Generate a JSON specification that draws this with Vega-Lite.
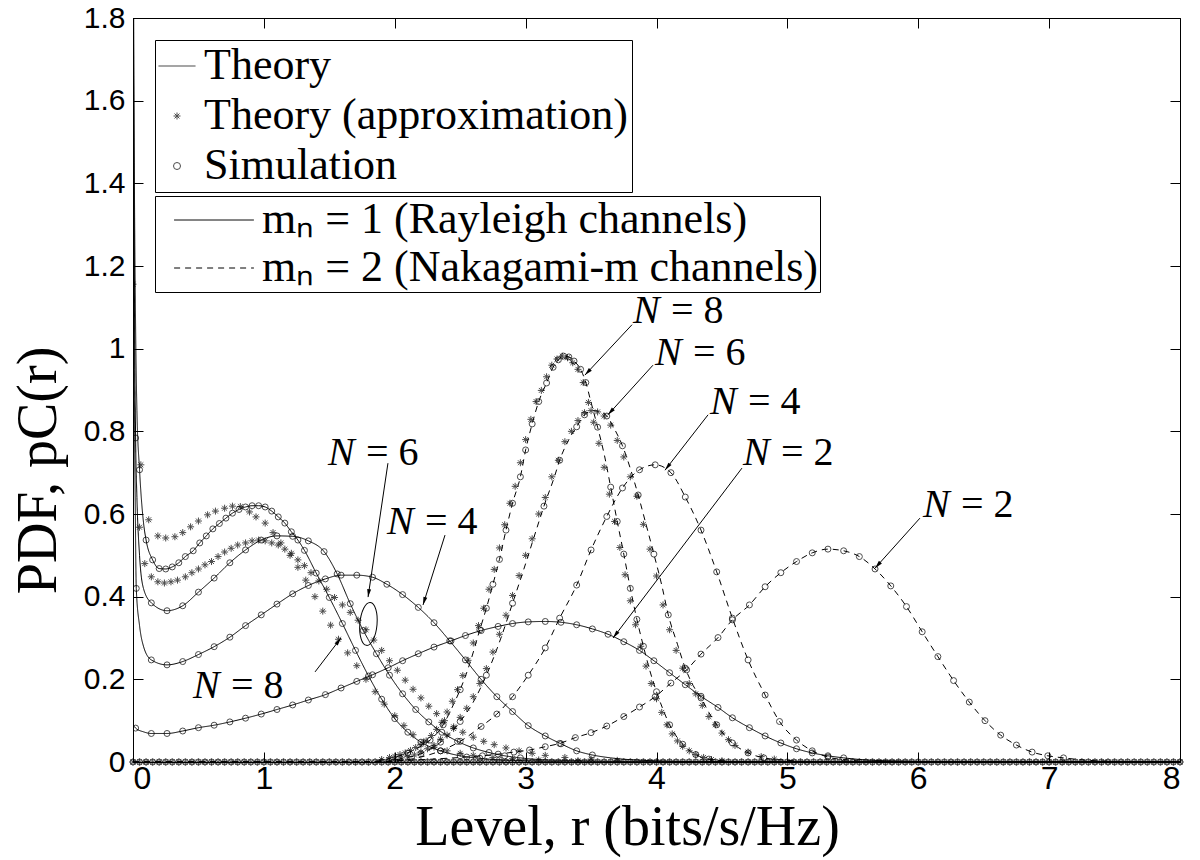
{
"$schema": "https://vega.github.io/schema/vega-lite/v6.json",
"width": 1047, "height": 744,
"autosize": {"type": "none"},
"padding": {"left": 133, "top": 18, "right": 20, "bottom": 98},
"background": "white",
"config": {
  "view": {"stroke": "black", "strokeWidth": 1},
  "axis": {"grid": false, "domain": false, "tickColor": "black", "tickSize": -10, "tickWidth": 1, "labelFont": "Liberation Sans", "labelFontSize": 30, "labelColor": "black", "titleFont": "Liberation Serif", "titleFontSize": 56, "titleFontWeight": "normal", "titleColor": "black"},
  "legend": {"labelFont": "Liberation Serif", "labelFontSize": 44, "labelColor": "black", "labelLimit": 2000, "strokeColor": "black", "fillColor": "white", "symbolStrokeWidth": 1, "symbolStrokeColor": "black"}
},
"datasets": {
"th": [
{"c":"R2","m":1,"x":0,"y":0.09,"s":0},{"c":"R2","m":1,"x":0.02,"y":0.082,"s":1},{"c":"R2","m":1,"x":0.08,"y":0.073,"s":0},{"c":"R2","m":1,"x":0.14,"y":0.069,"s":1},{"c":"R2","m":1,"x":0.26,"y":0.069,"s":1},{"c":"R2","m":1,"x":0.38,"y":0.075,"s":1},{"c":"R2","m":1,"x":0.5,"y":0.083,"s":1},{"c":"R2","m":1,"x":0.62,"y":0.089,"s":1},{"c":"R2","m":1,"x":0.74,"y":0.097,"s":1},{"c":"R2","m":1,"x":0.86,"y":0.106,"s":1},{"c":"R2","m":1,"x":0.98,"y":0.116,"s":1},{"c":"R2","m":1,"x":1.1,"y":0.127,"s":1},{"c":"R2","m":1,"x":1.22,"y":0.138,"s":1},{"c":"R2","m":1,"x":1.34,"y":0.15,"s":1},{"c":"R2","m":1,"x":1.47,"y":0.163,"s":1},{"c":"R2","m":1,"x":1.59,"y":0.179,"s":1},{"c":"R2","m":1,"x":1.71,"y":0.195,"s":1},{"c":"R2","m":1,"x":1.83,"y":0.211,"s":1},{"c":"R2","m":1,"x":1.95,"y":0.228,"s":1},{"c":"R2","m":1,"x":2.06,"y":0.245,"s":1},{"c":"R2","m":1,"x":2.18,"y":0.262,"s":1},{"c":"R2","m":1,"x":2.3,"y":0.278,"s":1},{"c":"R2","m":1,"x":2.43,"y":0.293,"s":1},{"c":"R2","m":1,"x":2.54,"y":0.306,"s":1},{"c":"R2","m":1,"x":2.66,"y":0.318,"s":1},{"c":"R2","m":1,"x":2.79,"y":0.328,"s":1},{"c":"R2","m":1,"x":2.9,"y":0.335,"s":1},{"c":"R2","m":1,"x":3.02,"y":0.339,"s":1},{"c":"R2","m":1,"x":3.15,"y":0.34,"s":1},{"c":"R2","m":1,"x":3.27,"y":0.338,"s":1},{"c":"R2","m":1,"x":3.39,"y":0.332,"s":1},{"c":"R2","m":1,"x":3.51,"y":0.322,"s":1},{"c":"R2","m":1,"x":3.63,"y":0.309,"s":1},{"c":"R2","m":1,"x":3.75,"y":0.291,"s":1},{"c":"R2","m":1,"x":3.87,"y":0.27,"s":1},{"c":"R2","m":1,"x":3.98,"y":0.245,"s":1},{"c":"R2","m":1,"x":4.1,"y":0.216,"s":1},{"c":"R2","m":1,"x":4.22,"y":0.187,"s":1},{"c":"R2","m":1,"x":4.34,"y":0.159,"s":1},{"c":"R2","m":1,"x":4.47,"y":0.132,"s":1},{"c":"R2","m":1,"x":4.58,"y":0.107,"s":1},{"c":"R2","m":1,"x":4.71,"y":0.083,"s":1},{"c":"R2","m":1,"x":4.83,"y":0.063,"s":1},{"c":"R2","m":1,"x":4.95,"y":0.046,"s":1},{"c":"R2","m":1,"x":5.07,"y":0.032,"s":1},{"c":"R2","m":1,"x":5.19,"y":0.022,"s":1},{"c":"R2","m":1,"x":5.31,"y":0.015,"s":1},{"c":"R2","m":1,"x":5.43,"y":0.01,"s":1},{"c":"R2","m":1,"x":5.6,"y":0.005,"s":0},{"c":"R2","m":1,"x":5.9,"y":0.002,"s":0},{"c":"R2","m":1,"x":6.3,"y":0,"s":0},{"c":"R2","m":1,"x":8,"y":0,"s":0},
{"c":"R4","m":1,"x":0.002,"y":1.9,"s":0},{"c":"R4","m":1,"x":0.01,"y":0.95,"s":0},{"c":"R4","m":1,"x":0.018,"y":0.6,"s":0},{"c":"R4","m":1,"x":0.025,"y":0.42,"s":1},{"c":"R4","m":1,"x":0.05,"y":0.33,"s":0},{"c":"R4","m":1,"x":0.08,"y":0.28,"s":0},{"c":"R4","m":1,"x":0.14,"y":0.247,"s":1},{"c":"R4","m":1,"x":0.26,"y":0.235,"s":1},{"c":"R4","m":1,"x":0.38,"y":0.243,"s":1},{"c":"R4","m":1,"x":0.5,"y":0.26,"s":1},{"c":"R4","m":1,"x":0.62,"y":0.279,"s":1},{"c":"R4","m":1,"x":0.74,"y":0.302,"s":1},{"c":"R4","m":1,"x":0.86,"y":0.33,"s":1},{"c":"R4","m":1,"x":0.98,"y":0.356,"s":1},{"c":"R4","m":1,"x":1.1,"y":0.382,"s":1},{"c":"R4","m":1,"x":1.22,"y":0.407,"s":1},{"c":"R4","m":1,"x":1.34,"y":0.427,"s":1},{"c":"R4","m":1,"x":1.47,"y":0.443,"s":1},{"c":"R4","m":1,"x":1.59,"y":0.452,"s":1},{"c":"R4","m":1,"x":1.71,"y":0.452,"s":1},{"c":"R4","m":1,"x":1.83,"y":0.447,"s":1},{"c":"R4","m":1,"x":1.94,"y":0.43,"s":1},{"c":"R4","m":1,"x":2.06,"y":0.405,"s":1},{"c":"R4","m":1,"x":2.18,"y":0.374,"s":1},{"c":"R4","m":1,"x":2.3,"y":0.337,"s":1},{"c":"R4","m":1,"x":2.42,"y":0.293,"s":1},{"c":"R4","m":1,"x":2.54,"y":0.247,"s":1},{"c":"R4","m":1,"x":2.66,"y":0.2,"s":1},{"c":"R4","m":1,"x":2.78,"y":0.158,"s":1},{"c":"R4","m":1,"x":2.9,"y":0.122,"s":1},{"c":"R4","m":1,"x":3.02,"y":0.088,"s":1},{"c":"R4","m":1,"x":3.15,"y":0.063,"s":1},{"c":"R4","m":1,"x":3.27,"y":0.044,"s":1},{"c":"R4","m":1,"x":3.39,"y":0.027,"s":1},{"c":"R4","m":1,"x":3.51,"y":0.017,"s":1},{"c":"R4","m":1,"x":3.65,"y":0.01,"s":0},{"c":"R4","m":1,"x":3.9,"y":0.004,"s":0},{"c":"R4","m":1,"x":4.3,"y":0.001,"s":0},{"c":"R4","m":1,"x":8,"y":0,"s":0},
{"c":"R6","m":1,"x":0.002,"y":1.95,"s":0},{"c":"R6","m":1,"x":0.01,"y":1.2,"s":0},{"c":"R6","m":1,"x":0.02,"y":0.784,"s":1},{"c":"R6","m":1,"x":0.03,"y":0.64,"s":0},{"c":"R6","m":1,"x":0.05,"y":0.5,"s":0},{"c":"R6","m":1,"x":0.08,"y":0.42,"s":0},{"c":"R6","m":1,"x":0.14,"y":0.385,"s":1},{"c":"R6","m":1,"x":0.26,"y":0.366,"s":1},{"c":"R6","m":1,"x":0.38,"y":0.378,"s":1},{"c":"R6","m":1,"x":0.5,"y":0.411,"s":1},{"c":"R6","m":1,"x":0.62,"y":0.445,"s":1},{"c":"R6","m":1,"x":0.74,"y":0.482,"s":1},{"c":"R6","m":1,"x":0.86,"y":0.513,"s":1},{"c":"R6","m":1,"x":0.98,"y":0.537,"s":1},{"c":"R6","m":1,"x":1.1,"y":0.547,"s":1},{"c":"R6","m":1,"x":1.22,"y":0.546,"s":1},{"c":"R6","m":1,"x":1.34,"y":0.535,"s":1},{"c":"R6","m":1,"x":1.46,"y":0.509,"s":1},{"c":"R6","m":1,"x":1.56,"y":0.455,"s":1},{"c":"R6","m":1,"x":1.66,"y":0.383,"s":1},{"c":"R6","m":1,"x":1.76,"y":0.318,"s":1},{"c":"R6","m":1,"x":1.86,"y":0.262,"s":1},{"c":"R6","m":1,"x":1.96,"y":0.21,"s":1},{"c":"R6","m":1,"x":2.06,"y":0.165,"s":1},{"c":"R6","m":1,"x":2.16,"y":0.127,"s":1},{"c":"R6","m":1,"x":2.26,"y":0.097,"s":1},{"c":"R6","m":1,"x":2.36,"y":0.072,"s":1},{"c":"R6","m":1,"x":2.48,"y":0.05,"s":1},{"c":"R6","m":1,"x":2.6,"y":0.034,"s":1},{"c":"R6","m":1,"x":2.72,"y":0.023,"s":1},{"c":"R6","m":1,"x":2.84,"y":0.015,"s":1},{"c":"R6","m":1,"x":2.96,"y":0.01,"s":1},{"c":"R6","m":1,"x":3.1,"y":0.006,"s":0},{"c":"R6","m":1,"x":3.4,"y":0.003,"s":0},{"c":"R6","m":1,"x":3.8,"y":0.001,"s":0},{"c":"R6","m":1,"x":8,"y":0,"s":0},
{"c":"R8","m":1,"x":0.003,"y":2.0,"s":0},{"c":"R8","m":1,"x":0.01,"y":1.45,"s":0},{"c":"R8","m":1,"x":0.02,"y":1.05,"s":0},{"c":"R8","m":1,"x":0.03,"y":0.85,"s":0},{"c":"R8","m":1,"x":0.05,"y":0.707,"s":1},{"c":"R8","m":1,"x":0.08,"y":0.58,"s":0},{"c":"R8","m":1,"x":0.1,"y":0.537,"s":1},{"c":"R8","m":1,"x":0.15,"y":0.489,"s":1},{"c":"R8","m":1,"x":0.2,"y":0.468,"s":1},{"c":"R8","m":1,"x":0.25,"y":0.467,"s":1},{"c":"R8","m":1,"x":0.3,"y":0.472,"s":1},{"c":"R8","m":1,"x":0.35,"y":0.482,"s":1},{"c":"R8","m":1,"x":0.4,"y":0.497,"s":1},{"c":"R8","m":1,"x":0.46,"y":0.511,"s":1},{"c":"R8","m":1,"x":0.51,"y":0.53,"s":1},{"c":"R8","m":1,"x":0.56,"y":0.547,"s":1},{"c":"R8","m":1,"x":0.61,"y":0.564,"s":1},{"c":"R8","m":1,"x":0.66,"y":0.577,"s":1},{"c":"R8","m":1,"x":0.71,"y":0.59,"s":1},{"c":"R8","m":1,"x":0.76,"y":0.602,"s":1},{"c":"R8","m":1,"x":0.81,"y":0.611,"s":1},{"c":"R8","m":1,"x":0.86,"y":0.617,"s":1},{"c":"R8","m":1,"x":0.91,"y":0.62,"s":1},{"c":"R8","m":1,"x":0.96,"y":0.62,"s":1},{"c":"R8","m":1,"x":1.01,"y":0.617,"s":1},{"c":"R8","m":1,"x":1.06,"y":0.607,"s":1},{"c":"R8","m":1,"x":1.11,"y":0.593,"s":1},{"c":"R8","m":1,"x":1.16,"y":0.578,"s":1},{"c":"R8","m":1,"x":1.21,"y":0.557,"s":1},{"c":"R8","m":1,"x":1.26,"y":0.537,"s":1},{"c":"R8","m":1,"x":1.31,"y":0.512,"s":1},{"c":"R8","m":1,"x":1.4,"y":0.457,"s":1},{"c":"R8","m":1,"x":1.5,"y":0.398,"s":1},{"c":"R8","m":1,"x":1.6,"y":0.335,"s":1},{"c":"R8","m":1,"x":1.7,"y":0.27,"s":1},{"c":"R8","m":1,"x":1.8,"y":0.208,"s":1},{"c":"R8","m":1,"x":1.9,"y":0.152,"s":1},{"c":"R8","m":1,"x":2.0,"y":0.105,"s":1},{"c":"R8","m":1,"x":2.1,"y":0.072,"s":1},{"c":"R8","m":1,"x":2.2,"y":0.048,"s":1},{"c":"R8","m":1,"x":2.35,"y":0.027,"s":1},{"c":"R8","m":1,"x":2.5,"y":0.015,"s":1},{"c":"R8","m":1,"x":2.65,"y":0.009,"s":1},{"c":"R8","m":1,"x":2.8,"y":0.005,"s":1},{"c":"R8","m":1,"x":3.0,"y":0.003,"s":0},{"c":"R8","m":1,"x":3.5,"y":0,"s":0},{"c":"R8","m":1,"x":8,"y":0,"s":0},
{"c":"K2","m":2,"x":0,"y":0,"s":0},{"c":"K2","m":2,"x":1.5,"y":0,"s":0},{"c":"K2","m":2,"x":1.8,"y":0.001,"s":0},{"c":"K2","m":2,"x":2.1,"y":0.004,"s":0},{"c":"K2","m":2,"x":2.4,"y":0.009,"s":0},{"c":"K2","m":2,"x":2.55,"y":0.012,"s":1},{"c":"K2","m":2,"x":2.67,"y":0.015,"s":1},{"c":"K2","m":2,"x":2.79,"y":0.019,"s":1},{"c":"K2","m":2,"x":2.91,"y":0.024,"s":1},{"c":"K2","m":2,"x":3.03,"y":0.029,"s":1},{"c":"K2","m":2,"x":3.15,"y":0.037,"s":1},{"c":"K2","m":2,"x":3.26,"y":0.045,"s":1},{"c":"K2","m":2,"x":3.38,"y":0.059,"s":1},{"c":"K2","m":2,"x":3.5,"y":0.071,"s":1},{"c":"K2","m":2,"x":3.62,"y":0.087,"s":1},{"c":"K2","m":2,"x":3.75,"y":0.11,"s":1},{"c":"K2","m":2,"x":3.87,"y":0.133,"s":1},{"c":"K2","m":2,"x":3.99,"y":0.158,"s":1},{"c":"K2","m":2,"x":4.11,"y":0.191,"s":1},{"c":"K2","m":2,"x":4.23,"y":0.223,"s":1},{"c":"K2","m":2,"x":4.34,"y":0.261,"s":1},{"c":"K2","m":2,"x":4.47,"y":0.301,"s":1},{"c":"K2","m":2,"x":4.58,"y":0.344,"s":1},{"c":"K2","m":2,"x":4.71,"y":0.38,"s":1},{"c":"K2","m":2,"x":4.83,"y":0.424,"s":1},{"c":"K2","m":2,"x":4.95,"y":0.458,"s":1},{"c":"K2","m":2,"x":5.07,"y":0.485,"s":1},{"c":"K2","m":2,"x":5.19,"y":0.506,"s":1},{"c":"K2","m":2,"x":5.31,"y":0.515,"s":1},{"c":"K2","m":2,"x":5.43,"y":0.511,"s":1},{"c":"K2","m":2,"x":5.55,"y":0.497,"s":1},{"c":"K2","m":2,"x":5.67,"y":0.467,"s":1},{"c":"K2","m":2,"x":5.79,"y":0.426,"s":1},{"c":"K2","m":2,"x":5.91,"y":0.376,"s":1},{"c":"K2","m":2,"x":6.03,"y":0.315,"s":1},{"c":"K2","m":2,"x":6.15,"y":0.255,"s":1},{"c":"K2","m":2,"x":6.27,"y":0.197,"s":1},{"c":"K2","m":2,"x":6.39,"y":0.145,"s":1},{"c":"K2","m":2,"x":6.51,"y":0.1,"s":1},{"c":"K2","m":2,"x":6.63,"y":0.065,"s":1},{"c":"K2","m":2,"x":6.75,"y":0.041,"s":1},{"c":"K2","m":2,"x":6.87,"y":0.024,"s":1},{"c":"K2","m":2,"x":6.99,"y":0.015,"s":1},{"c":"K2","m":2,"x":7.11,"y":0.01,"s":1},{"c":"K2","m":2,"x":7.3,"y":0.004,"s":0},{"c":"K2","m":2,"x":7.6,"y":0.001,"s":0},{"c":"K2","m":2,"x":8,"y":0,"s":0},
{"c":"K4","m":2,"x":0,"y":0,"s":0},{"c":"K4","m":2,"x":1.8,"y":0,"s":0},{"c":"K4","m":2,"x":2.0,"y":0.002,"s":0},{"c":"K4","m":2,"x":2.2,"y":0.012,"s":0},{"c":"K4","m":2,"x":2.35,"y":0.027,"s":1},{"c":"K4","m":2,"x":2.5,"y":0.05,"s":1},{"c":"K4","m":2,"x":2.66,"y":0.086,"s":1},{"c":"K4","m":2,"x":2.78,"y":0.116,"s":1},{"c":"K4","m":2,"x":2.9,"y":0.158,"s":1},{"c":"K4","m":2,"x":3.02,"y":0.21,"s":1},{"c":"K4","m":2,"x":3.15,"y":0.276,"s":1},{"c":"K4","m":2,"x":3.26,"y":0.348,"s":1},{"c":"K4","m":2,"x":3.39,"y":0.428,"s":1},{"c":"K4","m":2,"x":3.5,"y":0.513,"s":1},{"c":"K4","m":2,"x":3.62,"y":0.594,"s":1},{"c":"K4","m":2,"x":3.74,"y":0.663,"s":1},{"c":"K4","m":2,"x":3.87,"y":0.707,"s":1},{"c":"K4","m":2,"x":3.99,"y":0.719,"s":1},{"c":"K4","m":2,"x":4.11,"y":0.7,"s":1},{"c":"K4","m":2,"x":4.22,"y":0.641,"s":1},{"c":"K4","m":2,"x":4.34,"y":0.561,"s":1},{"c":"K4","m":2,"x":4.46,"y":0.46,"s":1},{"c":"K4","m":2,"x":4.58,"y":0.348,"s":1},{"c":"K4","m":2,"x":4.7,"y":0.247,"s":1},{"c":"K4","m":2,"x":4.83,"y":0.162,"s":1},{"c":"K4","m":2,"x":4.94,"y":0.098,"s":1},{"c":"K4","m":2,"x":5.07,"y":0.053,"s":1},{"c":"K4","m":2,"x":5.19,"y":0.027,"s":1},{"c":"K4","m":2,"x":5.31,"y":0.012,"s":1},{"c":"K4","m":2,"x":5.45,"y":0.005,"s":0},{"c":"K4","m":2,"x":5.7,"y":0.001,"s":0},{"c":"K4","m":2,"x":8,"y":0,"s":0},
{"c":"K6","m":2,"x":0,"y":0,"s":0},{"c":"K6","m":2,"x":1.9,"y":0,"s":0},{"c":"K6","m":2,"x":2.05,"y":0.008,"s":0},{"c":"K6","m":2,"x":2.2,"y":0.02,"s":1},{"c":"K6","m":2,"x":2.35,"y":0.048,"s":1},{"c":"K6","m":2,"x":2.5,"y":0.098,"s":1},{"c":"K6","m":2,"x":2.6,"y":0.145,"s":0},{"c":"K6","m":2,"x":2.7,"y":0.21,"s":1},{"c":"K6","m":2,"x":2.8,"y":0.29,"s":0},{"c":"K6","m":2,"x":2.9,"y":0.384,"s":1},{"c":"K6","m":2,"x":3.0,"y":0.48,"s":0},{"c":"K6","m":2,"x":3.08,"y":0.56,"s":0},{"c":"K6","m":2,"x":3.14,"y":0.619,"s":1},{"c":"K6","m":2,"x":3.22,"y":0.69,"s":0},{"c":"K6","m":2,"x":3.26,"y":0.73,"s":1},{"c":"K6","m":2,"x":3.33,"y":0.78,"s":0},{"c":"K6","m":2,"x":3.39,"y":0.811,"s":1},{"c":"K6","m":2,"x":3.45,"y":0.84,"s":1},{"c":"K6","m":2,"x":3.52,"y":0.85,"s":0},{"c":"K6","m":2,"x":3.58,"y":0.846,"s":0},{"c":"K6","m":2,"x":3.62,"y":0.837,"s":1},{"c":"K6","m":2,"x":3.68,"y":0.805,"s":0},{"c":"K6","m":2,"x":3.74,"y":0.765,"s":1},{"c":"K6","m":2,"x":3.8,"y":0.71,"s":0},{"c":"K6","m":2,"x":3.86,"y":0.646,"s":1},{"c":"K6","m":2,"x":3.92,"y":0.575,"s":0},{"c":"K6","m":2,"x":3.98,"y":0.503,"s":1},{"c":"K6","m":2,"x":4.04,"y":0.428,"s":0},{"c":"K6","m":2,"x":4.09,"y":0.356,"s":1},{"c":"K6","m":2,"x":4.16,"y":0.285,"s":0},{"c":"K6","m":2,"x":4.22,"y":0.227,"s":1},{"c":"K6","m":2,"x":4.28,"y":0.185,"s":0},{"c":"K6","m":2,"x":4.34,"y":0.155,"s":1},{"c":"K6","m":2,"x":4.4,"y":0.12,"s":0},{"c":"K6","m":2,"x":4.46,"y":0.09,"s":1},{"c":"K6","m":2,"x":4.55,"y":0.055,"s":0},{"c":"K6","m":2,"x":4.58,"y":0.046,"s":1},{"c":"K6","m":2,"x":4.7,"y":0.022,"s":1},{"c":"K6","m":2,"x":4.82,"y":0.01,"s":1},{"c":"K6","m":2,"x":5.0,"y":0.004,"s":0},{"c":"K6","m":2,"x":5.3,"y":0,"s":0},{"c":"K6","m":2,"x":8,"y":0,"s":0},
{"c":"K8","m":2,"x":0,"y":0,"s":0},{"c":"K8","m":2,"x":1.8,"y":0,"s":0},{"c":"K8","m":2,"x":1.95,"y":0.008,"s":0},{"c":"K8","m":2,"x":2.1,"y":0.022,"s":1},{"c":"K8","m":2,"x":2.2,"y":0.038,"s":0},{"c":"K8","m":2,"x":2.27,"y":0.053,"s":1},{"c":"K8","m":2,"x":2.37,"y":0.09,"s":1},{"c":"K8","m":2,"x":2.45,"y":0.14,"s":0},{"c":"K8","m":2,"x":2.5,"y":0.175,"s":1},{"c":"K8","m":2,"x":2.57,"y":0.235,"s":0},{"c":"K8","m":2,"x":2.65,"y":0.32,"s":1},{"c":"K8","m":2,"x":2.7,"y":0.372,"s":1},{"c":"K8","m":2,"x":2.75,"y":0.43,"s":1},{"c":"K8","m":2,"x":2.8,"y":0.49,"s":1},{"c":"K8","m":2,"x":2.85,"y":0.561,"s":1},{"c":"K8","m":2,"x":2.9,"y":0.626,"s":1},{"c":"K8","m":2,"x":2.96,"y":0.69,"s":1},{"c":"K8","m":2,"x":3.0,"y":0.755,"s":1},{"c":"K8","m":2,"x":3.05,"y":0.818,"s":1},{"c":"K8","m":2,"x":3.1,"y":0.872,"s":1},{"c":"K8","m":2,"x":3.16,"y":0.917,"s":1},{"c":"K8","m":2,"x":3.21,"y":0.955,"s":1},{"c":"K8","m":2,"x":3.25,"y":0.973,"s":1},{"c":"K8","m":2,"x":3.29,"y":0.982,"s":1},{"c":"K8","m":2,"x":3.33,"y":0.98,"s":1},{"c":"K8","m":2,"x":3.37,"y":0.97,"s":1},{"c":"K8","m":2,"x":3.42,"y":0.95,"s":1},{"c":"K8","m":2,"x":3.46,"y":0.918,"s":1},{"c":"K8","m":2,"x":3.5,"y":0.87,"s":0},{"c":"K8","m":2,"x":3.55,"y":0.81,"s":1},{"c":"K8","m":2,"x":3.6,"y":0.745,"s":0},{"c":"K8","m":2,"x":3.65,"y":0.665,"s":1},{"c":"K8","m":2,"x":3.7,"y":0.582,"s":1},{"c":"K8","m":2,"x":3.75,"y":0.503,"s":1},{"c":"K8","m":2,"x":3.8,"y":0.42,"s":1},{"c":"K8","m":2,"x":3.85,"y":0.345,"s":1},{"c":"K8","m":2,"x":3.9,"y":0.28,"s":1},{"c":"K8","m":2,"x":3.95,"y":0.22,"s":0},{"c":"K8","m":2,"x":4.0,"y":0.17,"s":1},{"c":"K8","m":2,"x":4.05,"y":0.127,"s":0},{"c":"K8","m":2,"x":4.1,"y":0.09,"s":1},{"c":"K8","m":2,"x":4.15,"y":0.063,"s":0},{"c":"K8","m":2,"x":4.2,"y":0.043,"s":1},{"c":"K8","m":2,"x":4.3,"y":0.018,"s":1},{"c":"K8","m":2,"x":4.4,"y":0.007,"s":1},{"c":"K8","m":2,"x":4.6,"y":0.001,"s":0},{"c":"K8","m":2,"x":8,"y":0,"s":0}
],
"ap": [
{"x":0.0,"y":1.156},{"x":0.06,"y":0.719},{"x":0.12,"y":0.586},{"x":0.19,"y":0.547},{"x":0.25,"y":0.542},{"x":0.32,"y":0.545},{"x":0.38,"y":0.555},{"x":0.44,"y":0.569},{"x":0.5,"y":0.583},{"x":0.57,"y":0.598},{"x":0.63,"y":0.607},{"x":0.7,"y":0.614},{"x":0.76,"y":0.619},{"x":0.82,"y":0.618},{"x":0.89,"y":0.605},{"x":0.94,"y":0.593},{"x":1.01,"y":0.578},{"x":1.07,"y":0.555},{"x":1.13,"y":0.53},{"x":1.2,"y":0.5},{"x":1.26,"y":0.471},{"x":1.32,"y":0.44},{"x":1.39,"y":0.4},{"x":1.45,"y":0.365},{"x":1.51,"y":0.331},{"x":1.57,"y":0.297},{"x":1.64,"y":0.264},{"x":1.71,"y":0.233},{"x":1.78,"y":0.2},{"x":1.85,"y":0.17},{"x":1.92,"y":0.14},{"x":2.0,"y":0.112},{"x":2.07,"y":0.088},{"x":2.14,"y":0.066},{"x":2.22,"y":0.048},{"x":2.3,"y":0.036},{"x":2.4,"y":0.027},{"x":2.5,"y":0.021},{"x":2.6,"y":0.016},{"x":2.75,"y":0.011},{"x":2.9,"y":0.008},{"x":3.1,"y":0.005},{"x":3.4,"y":0.003},
{"x":0.05,"y":0.568},{"x":0.09,"y":0.48},{"x":0.14,"y":0.448},{"x":0.19,"y":0.436},{"x":0.24,"y":0.433},{"x":0.29,"y":0.436},{"x":0.34,"y":0.44},{"x":0.4,"y":0.448},{"x":0.45,"y":0.458},{"x":0.5,"y":0.467},{"x":0.55,"y":0.477},{"x":0.6,"y":0.485},{"x":0.65,"y":0.497},{"x":0.7,"y":0.508},{"x":0.75,"y":0.517},{"x":0.8,"y":0.525},{"x":0.86,"y":0.53},{"x":0.91,"y":0.535},{"x":0.96,"y":0.537},{"x":1.01,"y":0.535},{"x":1.06,"y":0.53},{"x":1.11,"y":0.525},{"x":1.16,"y":0.515},{"x":1.21,"y":0.505},{"x":1.26,"y":0.489},{"x":1.31,"y":0.475},{"x":1.36,"y":0.458},{"x":1.42,"y":0.438},{"x":1.48,"y":0.418},{"x":1.54,"y":0.398},{"x":1.6,"y":0.38},{"x":1.66,"y":0.362},{"x":1.72,"y":0.343},{"x":1.78,"y":0.32},{"x":1.84,"y":0.295},{"x":1.9,"y":0.27},{"x":1.96,"y":0.245},{"x":2.02,"y":0.222},{"x":2.08,"y":0.198},{"x":2.14,"y":0.176},{"x":2.2,"y":0.155},{"x":2.26,"y":0.135},{"x":2.32,"y":0.117},{"x":2.38,"y":0.1},{"x":2.45,"y":0.085},{"x":2.52,"y":0.072},{"x":2.6,"y":0.06},{"x":2.68,"y":0.05},{"x":2.76,"y":0.042},{"x":2.85,"y":0.034},{"x":2.95,"y":0.027},{"x":3.05,"y":0.021},{"x":3.15,"y":0.016},{"x":3.3,"y":0.011},{"x":3.5,"y":0.007},{"x":3.7,"y":0.004},
{"x":1.9,"y":0.006},{"x":1.96,"y":0.011},{"x":2.0,"y":0.014},{"x":2.04,"y":0.018},{"x":2.08,"y":0.022},{"x":2.12,"y":0.028},{"x":2.16,"y":0.035},{"x":2.2,"y":0.042},{"x":2.24,"y":0.051},{"x":2.28,"y":0.064},{"x":2.32,"y":0.079},{"x":2.36,"y":0.096},{"x":2.4,"y":0.121},{"x":2.44,"y":0.147},{"x":2.48,"y":0.175},{"x":2.52,"y":0.209},{"x":2.56,"y":0.246},{"x":2.6,"y":0.288},{"x":2.64,"y":0.33},{"x":2.68,"y":0.372},{"x":2.72,"y":0.418},{"x":2.76,"y":0.466},{"x":2.8,"y":0.518},{"x":2.84,"y":0.574},{"x":2.88,"y":0.626},{"x":2.92,"y":0.667},{"x":2.96,"y":0.724},{"x":3.0,"y":0.78},{"x":3.04,"y":0.829},{"x":3.08,"y":0.872},{"x":3.12,"y":0.899},{"x":3.16,"y":0.932},{"x":3.2,"y":0.96},{"x":3.24,"y":0.975},{"x":3.28,"y":0.982},{"x":3.32,"y":0.978},{"x":3.36,"y":0.966},{"x":3.4,"y":0.95},{"x":3.44,"y":0.918},{"x":3.48,"y":0.87},{"x":3.52,"y":0.822},{"x":3.56,"y":0.771},{"x":3.6,"y":0.713},{"x":3.64,"y":0.648},{"x":3.68,"y":0.582},{"x":3.72,"y":0.519},{"x":3.76,"y":0.453},{"x":3.8,"y":0.39},{"x":3.84,"y":0.332},{"x":3.88,"y":0.28},{"x":3.92,"y":0.232},{"x":3.96,"y":0.19},{"x":4.0,"y":0.153},{"x":4.04,"y":0.12},{"x":4.08,"y":0.09},{"x":4.12,"y":0.068},{"x":4.16,"y":0.051},{"x":4.2,"y":0.038},{"x":4.25,"y":0.027},{"x":4.3,"y":0.018},{"x":4.36,"y":0.011},{"x":4.42,"y":0.006},{"x":4.5,"y":0.003},
{"x":2.0,"y":0.006},{"x":2.05,"y":0.01},{"x":2.1,"y":0.013},{"x":2.15,"y":0.017},{"x":2.2,"y":0.024},{"x":2.25,"y":0.032},{"x":2.3,"y":0.04},{"x":2.35,"y":0.055},{"x":2.4,"y":0.065},{"x":2.45,"y":0.081},{"x":2.5,"y":0.108},{"x":2.55,"y":0.13},{"x":2.6,"y":0.158},{"x":2.65,"y":0.19},{"x":2.7,"y":0.226},{"x":2.75,"y":0.266},{"x":2.8,"y":0.309},{"x":2.85,"y":0.355},{"x":2.9,"y":0.403},{"x":2.95,"y":0.451},{"x":3.0,"y":0.5},{"x":3.05,"y":0.54},{"x":3.1,"y":0.6},{"x":3.15,"y":0.64},{"x":3.2,"y":0.69},{"x":3.25,"y":0.73},{"x":3.3,"y":0.775},{"x":3.35,"y":0.8},{"x":3.4,"y":0.826},{"x":3.45,"y":0.845},{"x":3.5,"y":0.85},{"x":3.55,"y":0.847},{"x":3.6,"y":0.837},{"x":3.65,"y":0.815},{"x":3.7,"y":0.778},{"x":3.75,"y":0.738},{"x":3.8,"y":0.69},{"x":3.85,"y":0.643},{"x":3.9,"y":0.575},{"x":3.95,"y":0.515},{"x":4.0,"y":0.45},{"x":4.05,"y":0.38},{"x":4.1,"y":0.32},{"x":4.15,"y":0.27},{"x":4.2,"y":0.227},{"x":4.25,"y":0.19},{"x":4.3,"y":0.165},{"x":4.35,"y":0.137},{"x":4.4,"y":0.11},{"x":4.45,"y":0.09},{"x":4.5,"y":0.07},{"x":4.55,"y":0.054},{"x":4.6,"y":0.04},{"x":4.7,"y":0.024},{"x":4.8,"y":0.013},{"x":4.9,"y":0.007}
],
"z": [
{"x":0},{"x":0.05},{"x":0.1},{"x":0.15},{"x":0.2},{"x":0.25},{"x":0.3},{"x":0.35},{"x":0.4},{"x":0.45},{"x":0.5},{"x":0.55},{"x":0.6},{"x":0.65},{"x":0.7},{"x":0.75},{"x":0.8},{"x":0.85},{"x":0.9},{"x":0.95},
{"x":1},{"x":1.05},{"x":1.1},{"x":1.15},{"x":1.2},{"x":1.25},{"x":1.3},{"x":1.35},{"x":1.4},{"x":1.45},{"x":1.5},{"x":1.55},{"x":1.6},{"x":1.65},{"x":1.7},{"x":1.75},{"x":1.8},{"x":1.85},{"x":1.9},{"x":1.95},
{"x":2},{"x":2.05},{"x":2.1},{"x":2.15},{"x":2.2},{"x":2.25},{"x":2.3},{"x":2.35},{"x":2.4},{"x":2.45},{"x":2.5},{"x":2.55},{"x":2.6},{"x":2.65},{"x":2.7},{"x":2.75},{"x":2.8},{"x":2.85},{"x":2.9},{"x":2.95},
{"x":3},{"x":3.05},{"x":3.1},{"x":3.15},{"x":3.2},{"x":3.25},{"x":3.3},{"x":3.35},{"x":3.4},{"x":3.45},{"x":3.5},{"x":3.55},{"x":3.6},{"x":3.65},{"x":3.7},{"x":3.75},{"x":3.8},{"x":3.85},{"x":3.9},{"x":3.95},
{"x":4},{"x":4.05},{"x":4.1},{"x":4.15},{"x":4.2},{"x":4.25},{"x":4.3},{"x":4.35},{"x":4.4},{"x":4.45},{"x":4.5},{"x":4.55},{"x":4.6},{"x":4.65},{"x":4.7},{"x":4.75},{"x":4.8},{"x":4.85},{"x":4.9},{"x":4.95},
{"x":5},{"x":5.05},{"x":5.1},{"x":5.15},{"x":5.2},{"x":5.25},{"x":5.3},{"x":5.35},{"x":5.4},{"x":5.45},{"x":5.5},{"x":5.55},{"x":5.6},{"x":5.65},{"x":5.7},{"x":5.75},{"x":5.8},{"x":5.85},{"x":5.9},{"x":5.95},
{"x":6},{"x":6.05},{"x":6.1},{"x":6.15},{"x":6.2},{"x":6.25},{"x":6.3},{"x":6.35},{"x":6.4},{"x":6.45},{"x":6.5},{"x":6.55},{"x":6.6},{"x":6.65},{"x":6.7},{"x":6.75},{"x":6.8},{"x":6.85},{"x":6.9},{"x":6.95},
{"x":7},{"x":7.05},{"x":7.1},{"x":7.15},{"x":7.2},{"x":7.25},{"x":7.3},{"x":7.35},{"x":7.4},{"x":7.45},{"x":7.5},{"x":7.55},{"x":7.6},{"x":7.65},{"x":7.7},{"x":7.75},{"x":7.8},{"x":7.85},{"x":7.9},{"x":7.95},{"x":8}
],
"lb": [
{"x":3.82,"y":1.092,"t":"=  8"},{"x":3.989,"y":0.99,"t":"=  6"},{"x":4.409,"y":0.871,"t":"=  4"},{"x":4.661,"y":0.748,"t":"=  2"},{"x":6.036,"y":0.622,"t":"=  2"},{"x":1.49,"y":0.748,"t":"=  6"},{"x":1.941,"y":0.581,"t":"=  4"},{"x":0.458,"y":0.184,"t":"=  8"}
],
"ar": [
{"x":3.813,"y":1.058,"x2":3.453,"y2":0.936,"a":223},{"x":3.973,"y":0.96,"x2":3.629,"y2":0.84,"a":222},{"x":4.394,"y":0.84,"x2":4.065,"y2":0.706,"a":218},{"x":4.653,"y":0.711,"x2":3.668,"y2":0.3,"a":217},{"x":6.013,"y":0.59,"x2":5.67,"y2":0.469,"a":222},{"x":1.948,"y":0.723,"x2":1.796,"y2":0.399,"a":188},{"x":2.384,"y":0.549,"x2":2.216,"y2":0.38,"a":197},{"x":1.391,"y":0.218,"x2":1.589,"y2":0.3,"a":37}
],
"el": [{"x":1.799,"y":0.334}]
},
"resolve": {"axis": {"x": "independent", "y": "independent"}},
"layer": [
{"data": {"name": "th"},
 "mark": {"type": "line", "color": "black", "strokeWidth": 1, "clip": true, "interpolate": "monotone"},
 "encoding": {
  "x": {"field": "x", "type": "quantitative", "scale": {"domain": [0, 8], "nice": false, "zero": false},
        "axis": {"orient": "bottom", "values": [0,1,2,3,4,5,6,7,8], "labelFontSize": 32, "labelPadding": 11, "title": "Level, r (bits/s/Hz)", "titleFontSize": 56, "titleX": 494, "titleY": 38, "titleBaseline": "top", "titleAnchor": "middle"}},
  "y": {"field": "y", "type": "quantitative", "scale": {"domain": [0, 1.8], "nice": false, "zero": false},
        "axis": {"orient": "left", "values": [0,0.2,0.4,0.6,0.8,1,1.2,1.4,1.6,1.8], "format": "~g", "labelPadding": 18, "title": "PDF, pC(r)", "titleFontSize": 56, "titleX": -66, "titleY": 452, "titleAngle": -90, "titleBaseline": "bottom", "titleAlign": "center"}},
  "detail": {"field": "c", "type": "nominal"},
  "strokeDash": {"field": "m", "type": "nominal", "scale": {"domain": [1, 2], "range": [[1, 0], [6, 5]]},
     "legend": {"title": null, "orient": "none", "legendX": 22, "legendY": 178, "padding": 2, "rowPadding": 4, "symbolType": "M-11.4,0L11.4,0", "symbolSize": 49, "symbolOffset": 35, "labelOffset": 26,
       "labelExpr": "datum.value == 1 ? 'mₙ = 1 (Rayleigh channels)' : 'mₙ = 2 (Nakagami-m channels)'"}}
 }},
{"data": {"name": "th"},
 "transform": [{"filter": "datum.s == 1"}],
 "mark": {"type": "point", "color": "black", "filled": false, "strokeWidth": 1, "size": 36, "clip": true},
 "encoding": {
  "x": {"field": "x", "type": "quantitative", "axis": null},
  "y": {"field": "y", "type": "quantitative", "axis": null},
  "shape": {"datum": "Simulation", "type": "nominal",
     "scale": {"domain": ["Theory", "Theory (approximation)", "Simulation"], "range": ["M-5.3,0L5.3,0", "M0,-1L0,1M-1,0L1,0M-0.7,-0.7L0.7,0.7M-0.7,0.7L0.7,-0.7", "circle"]},
     "legend": {"title": null, "orient": "none", "legendX": 22, "legendY": 22, "padding": 4, "rowPadding": 6, "symbolSize": 49, "symbolOffset": -4, "labelOffset": 5, "symbolFillColor": "transparent"}}
 }},
{"data": {"name": "ap"},
 "mark": {"type": "point", "color": "black", "filled": false, "strokeWidth": 1, "size": 49, "clip": true},
 "encoding": {
  "x": {"field": "x", "type": "quantitative", "axis": null},
  "y": {"field": "y", "type": "quantitative", "axis": null},
  "shape": {"datum": "Theory (approximation)", "type": "nominal"}
 }},
{"data": {"name": "z"},
 "mark": {"type": "point", "color": "black", "filled": false, "strokeWidth": 1, "size": 49, "clip": false},
 "encoding": {
  "x": {"field": "x", "type": "quantitative", "axis": null},
  "y": {"datum": 0, "type": "quantitative", "axis": null},
  "shape": {"datum": "Theory (approximation)", "type": "nominal"}
 }},
{"data": {"name": "z"},
 "mark": {"type": "point", "color": "black", "filled": false, "strokeWidth": 1, "size": 36, "clip": false},
 "encoding": {
  "x": {"field": "x", "type": "quantitative", "axis": null},
  "y": {"datum": 0, "type": "quantitative", "axis": null},
  "shape": {"datum": "Simulation", "type": "nominal"}
 }},
{"data": {"name": "ar"},
 "mark": {"type": "rule", "color": "black", "strokeWidth": 1},
 "encoding": {
  "x": {"field": "x", "type": "quantitative", "axis": null},
  "y": {"field": "y", "type": "quantitative", "axis": null},
  "x2": {"field": "x2"},
  "y2": {"field": "y2"}
 }},
{"data": {"name": "ar"},
 "mark": {"type": "point", "shape": "M0,0L-0.4,1.6L0.4,1.6Z", "filled": true, "color": "black", "size": 100, "opacity": 1},
 "encoding": {
  "x": {"field": "x2", "type": "quantitative", "axis": null},
  "y": {"field": "y2", "type": "quantitative", "axis": null},
  "angle": {"field": "a", "type": "quantitative", "scale": null}
 }},
{"data": {"name": "lb"},
 "mark": {"type": "text", "font": "Liberation Serif", "fontSize": 40, "fontStyle": "italic", "align": "left", "baseline": "middle", "color": "black"},
 "encoding": {
  "x": {"field": "x", "type": "quantitative", "axis": null},
  "y": {"field": "y", "type": "quantitative", "axis": null},
  "text": {"value": "N"}
 }},
{"data": {"name": "lb"},
 "mark": {"type": "text", "font": "Liberation Serif", "fontSize": 40, "align": "left", "baseline": "middle", "dx": 38, "color": "black"},
 "encoding": {
  "x": {"field": "x", "type": "quantitative", "axis": null},
  "y": {"field": "y", "type": "quantitative", "axis": null},
  "text": {"field": "t"}
 }},
{"data": {"name": "el"},
 "mark": {"type": "point", "shape": "M0,-1C0.221,-1 0.4,-0.552 0.4,0C0.4,0.552 0.221,1 0,1C-0.221,1 -0.4,0.552 -0.4,0C-0.4,-0.552 -0.221,-1 0,-1Z", "filled": false, "color": "black", "strokeWidth": 1, "size": 1850, "angle": 5, "opacity": 1},
 "encoding": {
  "x": {"field": "x", "type": "quantitative", "axis": {"orient": "top", "values": [0,1,2,3,4,5,6,7,8], "labels": false, "title": null}},
  "y": {"field": "y", "type": "quantitative", "axis": {"orient": "right", "values": [0,0.2,0.4,0.6,0.8,1,1.2,1.4,1.6,1.8], "labels": false, "title": null}}
 }}
]
}
